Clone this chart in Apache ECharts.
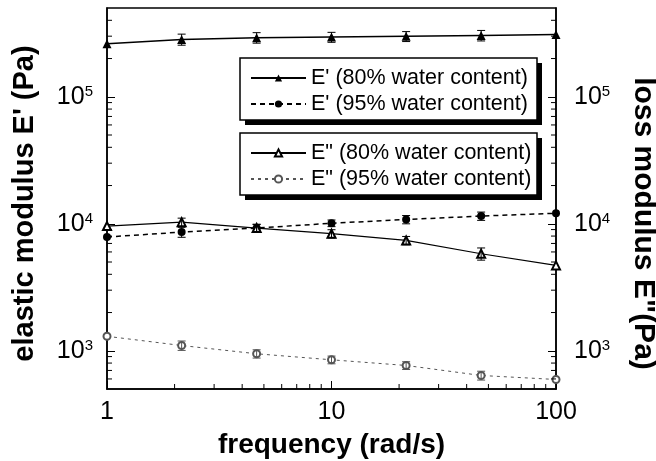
<!DOCTYPE html>
<html>
<head>
<meta charset="utf-8">
<style>
  html, body { margin: 0; padding: 0; background: #fff; }
  #chart { width: 656px; height: 461px; }
</style>
<script src="https://cdn.jsdelivr.net/npm/echarts@6/dist/echarts.min.js"></script>
</head>
<body>
<div id="chart"></div>
<script>
// frequency (rad/s), three points per decade
const frequency = [1, 2.15, 4.64, 10, 21.5, 46.4, 100]

// elastic modulus E' (Pa)
const elastic80 = [261000, 283000, 292000, 295000, 299000, 304000, 309000]
const elastic95 = [7860, 8600, 9250, 10100, 10800, 11500, 12100]
// loss modulus E'' (Pa)
const loss80 = [9590, 10300, 9250, 8350, 7390, 5810, 4700]
const loss95 = [1300, 1100, 947, 849, 766, 639, 594]

// relative error bar half heights
const elastic80Err = [0, 0.10, 0.095, 0.09, 0.09, 0.095, 0]
const elastic95Err = [0, 0.09, 0.07, 0.06, 0.075, 0.075, 0]
const loss80Err = [0, 0.075, 0.07, 0.075, 0.075, 0.11, 0]
const loss95Err = [0, 0.085, 0.075, 0.07, 0.07, 0.08, 0]

const seriesNames = [
  'E\' (80% water content)',
  'E\' (95% water content)',
  'E" (80% water content)',
  'E" (95% water content)'
]

const xMinorTicks = [2, 3, 4, 5, 6, 7, 8, 9, 20, 30, 40, 50, 60, 70, 80, 90]
const yMinorTicks = [600, 700, 800, 900, 2000, 3000, 4000, 5000, 6000, 7000, 8000, 9000,
  20000, 30000, 40000, 50000, 60000, 70000, 80000, 90000, 200000, 300000, 400000]

const Y_MIN = 500
const Y_MAX = 500000
const FONT = 'Liberation Sans, Arial, sans-serif'

function pairs(ys) {
  return frequency.map((x, i) => [x, ys[i]])
}

function errData(ys, errs) {
  return frequency.map((x, i) => [x, ys[i], errs[i]])
}

function renderErrorBar(color) {
  return function(params, api) {
    const x = api.value(0)
    const y = api.value(1)
    const e = api.value(2)
    if (!e) return null
    const top = api.coord([x, y * (1 + e)])
    const bot = api.coord([x, y * (1 - e)])
    const style = { stroke: color, lineWidth: 1 }
    return {
      type: 'group',
      children: [
        { type: 'line', shape: { x1: top[0], y1: top[1], x2: bot[0], y2: bot[1] }, style },
        { type: 'line', shape: { x1: top[0] - 4, y1: top[1], x2: top[0] + 4, y2: top[1] }, style },
        { type: 'line', shape: { x1: bot[0] - 4, y1: bot[1], x2: bot[0] + 4, y2: bot[1] }, style }
      ]
    }
  }
}

function expLabel(value) {
  return '{b|10}{s|' + Math.round(Math.log10(value)) + '}'
}

const labelRich = {
  b: { fontSize: 25, fontFamily: FONT, color: '#000' },
  s: { fontSize: 15, fontFamily: FONT, color: '#000', verticalAlign: 'top' }
}

// framed legend boxes with a hard drop shadow
function legendBox(top) {
  return [
    { type: 'rect', z: 10, shape: { x: 245, y: top + 5, width: 297, height: 62 }, style: { fill: '#000' } },
    { type: 'rect', z: 11, shape: { x: 240, y: top, width: 297, height: 62 }, style: { fill: '#fff', stroke: '#000', lineWidth: 1.5 } }
  ]
}

const legendCommon = {
  orient: 'vertical',
  left: 240,
  z: 20,
  itemWidth: 55,
  itemHeight: 9,
  itemGap: 4,
  padding: [9, 10, 6, 10],
  textStyle: { fontSize: 21.5, fontFamily: FONT, color: '#000' }
}

const chart = echarts.init(document.getElementById('chart'))
chart.setOption({
  animation: false,
  grid: {
    left: 107, right: 100, top: 8, bottom: 72,
    outerBoundsMode: 'none',
    show: true, borderColor: '#000', borderWidth: 1.5
  },
  graphic: legendBox(58).concat(legendBox(133)),
  legend: [
    Object.assign({ top: 58, data: seriesNames.slice(0, 2) }, legendCommon),
    Object.assign({ top: 133, data: seriesNames.slice(2, 4) }, legendCommon)
  ],
  xAxis: {
    type: 'log',
    logBase: 10,
    min: 1,
    max: 100,
    name: 'frequency (rad/s)',
    nameLocation: 'middle',
    nameGap: 42,
    nameTextStyle: { fontSize: 28, fontWeight: 'bold', fontFamily: FONT, color: '#000' },
    axisLine: { lineStyle: { color: '#000', width: 1.5 } },
    axisTick: { inside: true, length: 8, lineStyle: { color: '#000' } },
    axisLabel: { fontSize: 25, fontFamily: FONT, color: '#000', margin: 11 },
    splitLine: { show: false }
  },
  yAxis: [{
    type: 'log',
    logBase: 10,
    min: Y_MIN,
    max: Y_MAX,
    position: 'left',
    name: 'elastic modulus E\' (Pa)',
    nameLocation: 'middle',
    nameGap: 68,
    nameTextStyle: { fontSize: 29, fontWeight: 'bold', fontFamily: FONT, color: '#000', padding: [0, 10, 0, 0] },
    axisLine: { lineStyle: { color: '#000', width: 1.5 } },
    axisTick: { inside: true, length: 8, lineStyle: { color: '#000' } },
    axisLabel: { margin: 14, showMinLabel: false, showMaxLabel: false, formatter: expLabel, rich: labelRich },
    splitLine: { show: false }
  }, {
    type: 'log',
    logBase: 10,
    min: Y_MIN,
    max: Y_MAX,
    position: 'right',
    name: 'loss modulus E"(Pa)',
    nameLocation: 'middle',
    nameRotate: -90,
    nameGap: 72,
    nameTextStyle: { fontSize: 30, fontWeight: 'bold', fontFamily: FONT, color: '#000', padding: [0, 0, 0, 50] },
    axisLine: { lineStyle: { color: '#000', width: 1.5 } },
    axisTick: { inside: true, length: 8, lineStyle: { color: '#000' } },
    axisLabel: { margin: 18, showMinLabel: false, showMaxLabel: false, formatter: expLabel, rich: labelRich },
    splitLine: { show: false }
  }],
  series: [{
    name: seriesNames[0],
    type: 'line',
    data: pairs(elastic80),
    symbol: 'triangle',
    symbolSize: 9,
    showAllSymbol: true,
    itemStyle: { color: '#000' },
    lineStyle: { color: '#000', width: 1.5, type: 'solid' },
    z: 3
  }, {
    name: seriesNames[1],
    type: 'line',
    data: pairs(elastic95),
    symbol: 'circle',
    symbolSize: 8,
    showAllSymbol: true,
    itemStyle: { color: '#000' },
    lineStyle: { color: '#000', width: 1.5, type: [5, 4] },
    z: 3
  }, {
    name: seriesNames[2],
    type: 'line',
    data: pairs(loss80),
    symbol: 'emptyTriangle',
    symbolSize: 8,
    showAllSymbol: true,
    itemStyle: { color: '#000', borderWidth: 1 },
    lineStyle: { color: '#000', width: 1.2, type: 'solid' },
    z: 3
  }, {
    name: seriesNames[3],
    type: 'line',
    data: pairs(loss95),
    symbol: 'emptyCircle',
    symbolSize: 7,
    showAllSymbol: true,
    itemStyle: { color: '#555', borderWidth: 1 },
    lineStyle: { color: '#555', width: 1, type: [3, 4] },
    z: 3
  }, {
    type: 'custom',
    renderItem: renderErrorBar('#000'),
    data: errData(elastic80, elastic80Err),
    z: 4
  }, {
    type: 'custom',
    renderItem: renderErrorBar('#000'),
    data: errData(elastic95, elastic95Err),
    z: 4
  }, {
    type: 'custom',
    renderItem: renderErrorBar('#000'),
    data: errData(loss80, loss80Err),
    z: 4
  }, {
    type: 'custom',
    renderItem: renderErrorBar('#555'),
    data: errData(loss95, loss95Err),
    z: 4
  }, {
    // minor ticks on the frequency axis
    type: 'custom',
    silent: true,
    renderItem(params, api) {
      const p = api.coord([api.value(0), Y_MIN])
      return {
        type: 'line',
        shape: { x1: p[0], y1: p[1], x2: p[0], y2: p[1] - 5 },
        style: { stroke: '#000', lineWidth: 1 }
      }
    },
    data: xMinorTicks.map(v => [v, Y_MIN]),
    z: 5
  }, {
    // minor ticks on both modulus axes
    type: 'custom',
    silent: true,
    renderItem(params, api) {
      const l = api.coord([1, api.value(1)])
      const r = api.coord([100, api.value(1)])
      return {
        type: 'group',
        children: [
          { type: 'line', shape: { x1: l[0], y1: l[1], x2: l[0] + 5, y2: l[1] }, style: { stroke: '#000', lineWidth: 1 } },
          { type: 'line', shape: { x1: r[0], y1: r[1], x2: r[0] - 5, y2: r[1] }, style: { stroke: '#000', lineWidth: 1 } }
        ]
      }
    },
    data: yMinorTicks.map(v => [1, v]),
    z: 5
  }]
})
</script>
</body>
</html>
